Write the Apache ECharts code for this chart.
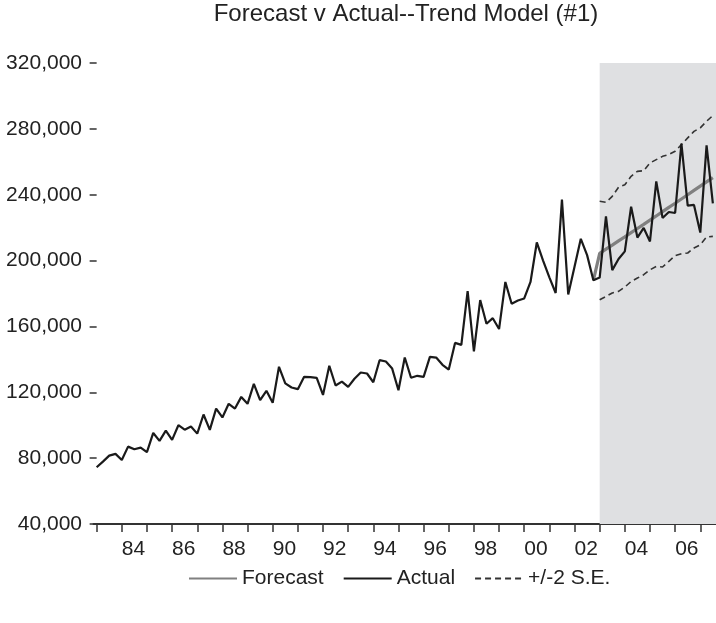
<!DOCTYPE html>
<html><head><meta charset="utf-8">
<script src="https://cdn.jsdelivr.net/npm/echarts@6/dist/echarts.min.js"></script>
<style>html,body{margin:0;padding:0;background:#fff}#c{width:716px;height:623px}</style>
</head><body><div id="c"></div>
<script>
// ---- data ----
const years = ['1983','1984','1985','1986','1987','1988','1989','1990','1991','1992','1993','1994','1995',
  '1996','1997','1998','1999','2000','2001','2002','2003','2004','2005','2006','2007'];
const lastQuarter = '2007Q3';
const xTickLabels = ['84','86','88','90','92','94','96','98','00','02','04','06'];
const yMin = 40000, yMax = 320000, yStep = 40000;

const actual = [
  74500, 77900, 81500, 82600, 78900, 87000, 85400, 86400, 83600, 95300,
  90500, 96700, 91100,100000, 97300, 99200, 94900,106500, 97200,110100,
 104700,113000,110100,117200,113000,125100,115200,120900,113600,135500,
 125400,122900,121900,129400,129200,128800,118400,136100,124100,126500,
 123300,128200,132000,131400,126100,139500,138700,134400,121200,141100,
 128800,130000,129400,141500,141100,136700,133800,150000,148800,181500,
 144800,176000,161600,165000,158400,187000,173800,175700,177000,187000,
 211000,200000,189800,180300,237000,179400,196300,213200,203300,188000,
 189700,226900,194200,201000,205600,232700,214000,219800,211600,248100,
 225900,229500,228900,271100,233400,233800,217000,270000,234800
];
const forecastStart = '2002Q4';
const forecast = [188000,204400,206900,209400,212000,214400,217000,219500,222000,224600,
  227100,229700,232300,234800,237400,240000,242600,245200,247800,250400];
const bandStart = '2003Q1';
const upper = [236000,235400,239000,244500,246000,251200,254200,254600,259300,261300,
  263300,264400,266400,270400,274500,278500,280600,284600,288100];
const lower = [176200,178200,180300,181300,183900,187300,189400,191400,194400,196400,
  196100,199500,203000,204200,204600,207600,209600,214300,214700];

// ---- build ----
const quarters = [];
years.forEach(y => ['Q1','Q2','Q3','Q4'].forEach(q => quarters.push(y + q)));
quarters.length = quarters.indexOf(lastQuarter) + 1;

const fIdx = quarters.indexOf(forecastStart);
const bIdx = quarters.indexOf(bandStart);
const tickIdx = quarters.map((q, i) => q.endsWith('Q1') ? i : -1).filter(i => i >= 0);
const labelIdx = xTickLabels.map(l => quarters.findIndex(q => q.endsWith('Q1') && q.slice(2, 4) === l));

const font = 'Liberation Sans, Arial, Helvetica, sans-serif';
const chart = echarts.init(document.getElementById('c'));
chart.setOption({
  animation: false,
  backgroundColor: '#fff',
  textStyle: { fontFamily: font },
  title: {
    text: 'Forecast v Actual--Trend Model (#1)',
    left: 406, top: 2, textAlign: 'center', padding: 0,
    textStyle: { fontSize: 24, fontWeight: 'normal', color: '#222', fontFamily: font }
  },
  legend: {
    data: ['Forecast', 'Actual', '+/-2 S.E.'],
    left: 188, top: 568, padding: 0,
    itemWidth: 48, itemHeight: 14, itemGap: 19,
    itemStyle: { opacity: 0 },
    textStyle: { fontSize: 21, color: '#222', fontFamily: font }
  },
  grid: { left: 93.5, right: 0, top: 63, bottom: 99, containLabel: false },
  xAxis: {
    type: 'value', min: -0.5, max: quarters.length - 0.5,
    axisLine: { show: true, lineStyle: { color: '#333', width: 2 } },
    axisTick: { show: true, customValues: tickIdx, length: 8, lineStyle: { color: '#333', width: 1.5 } },
    axisLabel: {
      customValues: labelIdx, formatter: v => quarters[Math.round(v)].slice(2, 4),
      align: 'left', margin: 15, fontSize: 21, color: '#222', fontFamily: font
    },
    splitLine: { show: false }
  },
  yAxis: {
    type: 'value', min: yMin, max: yMax, interval: yStep, offset: 1.5,
    axisLine: { show: false },
    axisTick: { show: true, length: 7, lineStyle: { color: '#333', width: 1.5 } },
    axisLabel: { formatter: v => v.toLocaleString('en-US'), fontSize: 21, color: '#222', margin: 10, fontFamily: font },
    splitLine: { show: false }
  },
  series: [
    {
      name: 'shade', type: 'line', data: [], z: 1, silent: true,
      markArea: { silent: true, itemStyle: { color: '#dfe0e2' },
        data: [[{ xAxis: bIdx }, { xAxis: quarters.length - 0.5 }]] }
    },
    {
      name: '+/-2 S.E.', type: 'line', z: 3, symbol: 'none', showSymbol: false,
      data: upper.map((v, i) => [bIdx + i, v]),
      lineStyle: { color: '#333', width: 1.6, type: [6, 4] }, itemStyle: { color: '#333' }
    },
    {
      name: '+/-2 S.E.', type: 'line', z: 3, symbol: 'none', showSymbol: false,
      data: lower.map((v, i) => [bIdx + i, v]),
      lineStyle: { color: '#333', width: 1.6, type: [6, 4] }, itemStyle: { color: '#333' }
    },
    {
      name: 'Forecast', type: 'line', z: 4, symbol: 'none', showSymbol: false,
      data: forecast.map((v, i) => [fIdx + i, v]),
      lineStyle: { color: '#808080', width: 3.2 }, itemStyle: { color: '#808080' }
    },
    {
      name: 'Actual', type: 'line', z: 5, symbol: 'none', showSymbol: false,
      data: actual.map((v, i) => [i, v]),
      lineStyle: { color: '#1a1a1a', width: 2.2 }, itemStyle: { color: '#1a1a1a' }
    }
  ]
});
</script></body></html>
